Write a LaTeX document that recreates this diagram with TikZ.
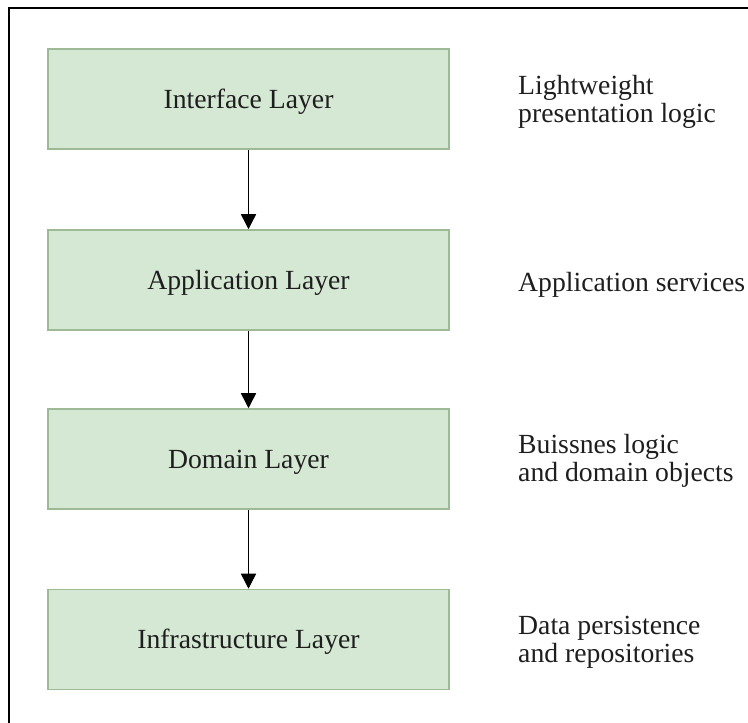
\documentclass[tikz,border=0pt]{standalone}
\usepackage{fontspec}
\setmainfont{Liberation Serif}
\usetikzlibrary{arrows.meta}
\definecolor{boxfill}{HTML}{D5E8D4}
\definecolor{boxline}{HTML}{9EB995}
\definecolor{inkc}{HTML}{1E1E1E}
\begin{document}
\begin{tikzpicture}[x=1pt,y=1pt,
  layerbox/.style={draw=boxline, line width=1.5pt, fill=boxfill, minimum width=401pt, minimum height=100pt, inner sep=0pt, text height=18.5pt, text depth=0pt, text=inkc, font=\fontsize{27.7}{28}\selectfont},
  desc/.style={anchor=base west, inner sep=0pt, align=left, text=inkc, font=\fontsize{27.7}{28}\selectfont},
  flow/.style={-{Triangle[width=15pt,length=15pt]}, line width=1.5pt, draw=black}]
\useasboundingbox (0,0) rectangle (748,723);
\draw[line width=1.6pt] (9,0) -- (9,715) -- (748,715);
\node[layerbox] (iface) at (248.5,624) {Interface Layer};
\node[layerbox] (app) at (248.5,443) {Application Layer};
\node[layerbox] (dom) at (248.5,264) {Domain Layer};
\node[layerbox] (infra) at (248.5,83.5) {Infrastructure Layer};
\draw[flow] (iface) -- (app);
\draw[flow] (app) -- (dom);
\draw[flow] (dom) -- (infra);
\node[desc] (d1) at (518,600) {Lightweight\\presentation logic};
\node[desc] (d2) at (518,431) {Application services};
\node[desc] (d3) at (518,241) {Buissnes logic\\and domain objects};
\node[desc] (d4) at (518,60) {Data persistence\\and repositories};
\end{tikzpicture}
\end{document}
